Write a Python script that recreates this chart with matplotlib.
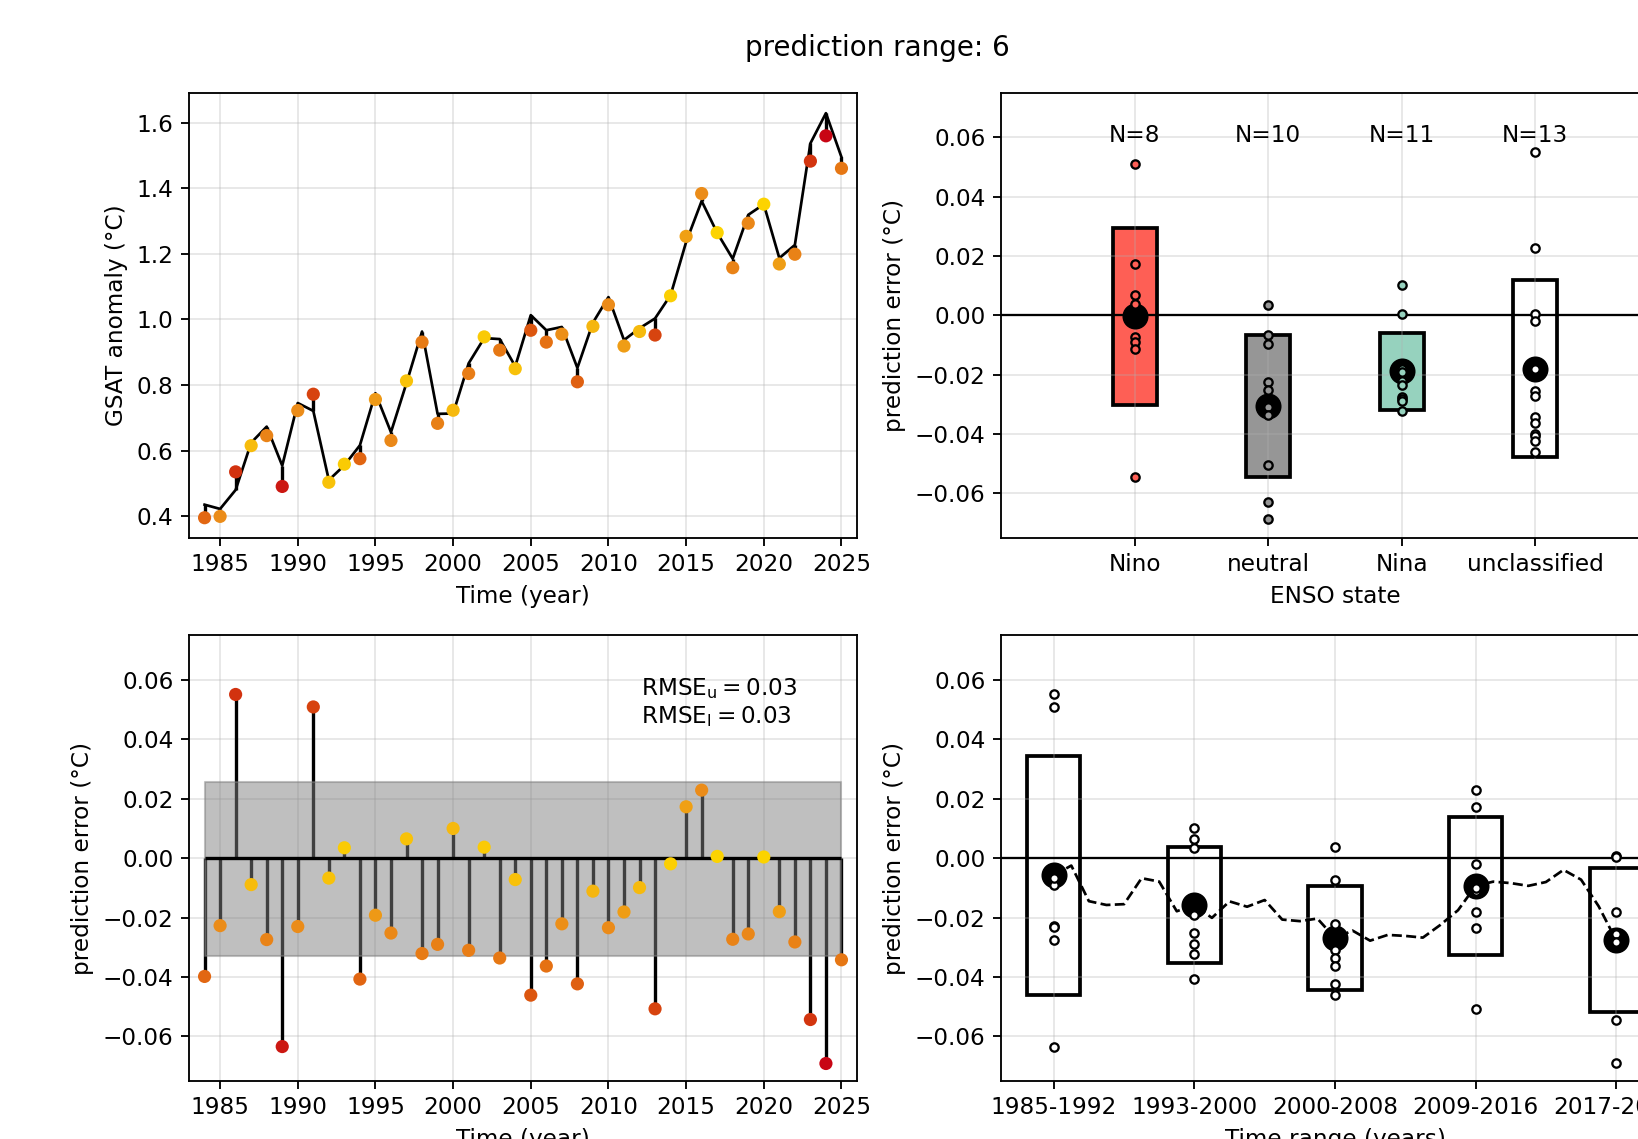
import matplotlib
matplotlib.use("Agg")
import matplotlib.pyplot as plt
import numpy as np
from matplotlib.colors import LinearSegmentedColormap, Normalize

# yearly series (1984-2025)
years = np.arange(1984, 2026)
gsat_obs = [0.435, 0.422, 0.480, 0.624, 0.673, 0.554, 0.745, 0.721, 0.510, 0.555,
            0.616, 0.775, 0.656, 0.806, 0.963, 0.712, 0.713, 0.866, 0.943, 0.940,
            0.857, 1.013, 0.967, 0.977, 0.852, 0.990, 1.068, 0.937, 0.973, 1.003,
            1.074, 1.236, 1.361, 1.264, 1.185, 1.319, 1.351, 1.187, 1.227, 1.537,
            1.629, 1.495]
pred_err = [-0.0398, -0.0227, 0.0551, -0.0089, -0.0274, -0.0634, -0.0230, 0.0509,
            -0.0067, 0.0035, -0.0407, -0.0192, -0.0252, 0.0065, -0.0321, -0.0290,
            0.0100, -0.0310, 0.0037, -0.0336, -0.0072, -0.0461, -0.0363, -0.0221,
            -0.0423, -0.0111, -0.0234, -0.0181, -0.0099, -0.0507, -0.0019, 0.0173,
            0.0229, 0.0006, -0.0273, -0.0255, 0.0004, -0.0180, -0.0282, -0.0543,
            -0.0691, -0.0342]

# ENSO groups
enso_names = ["Nino", "neutral", "Nina", "unclassified"]
enso_colors = ["#fe5f55", "#969696", "#96d2be", "white"]
nino_err = [0.0511, 0.0173, 0.0069, 0.0039, -0.0071, -0.0091, -0.0113, -0.0543]
neutral_err = [0.0036, -0.0065, -0.0096, -0.0224, -0.0250, -0.0310, -0.0335,
               -0.0503, -0.0630, -0.0686]
nina_err = [0.0101, 0.0005, -0.0180, -0.0181, -0.0192, -0.0221, -0.0234, -0.0274,
            -0.0282, -0.0290, -0.0321]
unclass_err = [0.0551, 0.0229, 0.0006, -0.0019, -0.0180, -0.0255, -0.0273, -0.0342,
               -0.0363, -0.0398, -0.0407, -0.0423, -0.0461]

# time ranges
range_labels = ["1985-1992", "1993-2000", "2000-2008", "2009-2016", "2017-2024"]
range_starts = [1985, 1993, 2001, 2009, 2017]
range_len = 8

# the reference was drawn a bit larger than 10 pt at 150 dpi
sc = 1.11
plt.rcParams.update({
    "font.size": 10 * sc,
    "axes.linewidth": 0.8 * sc,
    "xtick.major.size": 3.5 * sc,
    "ytick.major.size": 3.5 * sc,
    "xtick.major.width": 0.8 * sc,
    "ytick.major.width": 0.8 * sc,
    "grid.linewidth": 0.8 * sc,
})

years = np.asarray(years)
gsat_obs = np.asarray(gsat_obs)
pred_err = np.asarray(pred_err)
gsat_pred = gsat_obs + pred_err

cmap = LinearSegmentedColormap.from_list(
    "err", [(0.0, "#fcd400"), (0.16, "#f5b60f"), (0.33, "#eb8c19"),
            (0.5, "#e67614"), (0.67, "#dc550f"), (0.8, "#d2320f"), (1.0, "#c80514")])
norm = Normalize(0, np.abs(pred_err).max())
dot_colors = cmap(norm(np.abs(pred_err)))

fig = plt.figure(figsize=(1638 / 150, 1139 / 150), dpi=150)
ax1 = fig.add_axes([0.1154, 0.5277, 0.4078, 0.3907])
ax2 = fig.add_axes([0.6111, 0.5277, 0.4078, 0.3907])
ax3 = fig.add_axes([0.1154, 0.0509, 0.4078, 0.3913])
ax4 = fig.add_axes([0.6111, 0.0509, 0.4078, 0.3913])

fig.text(0.5354, 0.958, "prediction range: 6", ha="center", va="center", fontsize=12 * sc)

# top left: GSAT anomaly
ax1.plot(years, gsat_obs, color="black", lw=1.3, zorder=2)
ax1.vlines(years, gsat_obs, gsat_pred, color="black", lw=1.6, zorder=2)
ax1.scatter(years, gsat_pred, c=dot_colors, s=40, zorder=3, linewidths=0)
ax1.set_xlim(1983, 2026)
ax1.set_xticks(np.arange(1985, 2026, 5))
ax1.set_yticks(np.arange(0.4, 1.61, 0.2))
ax1.set_xlabel("Time (year)")
ax1.set_ylabel("GSAT anomaly (°C)")
ax1.grid(True, alpha=0.3)

# bottom left: error stems
rmse_u = np.sqrt(np.mean(pred_err[pred_err > 0] ** 2))
rmse_l = np.sqrt(np.mean(pred_err[pred_err < 0] ** 2))
ax3.vlines(years, 0, pred_err, color="black", lw=1.6, zorder=2)
ax3.fill_between([years[0], years[-1]], -rmse_l, rmse_u, facecolor="grey",
                 edgecolor="grey", alpha=0.5, lw=1, zorder=2.5)
ax3.hlines(0, years[0], years[-1], color="black", lw=1.6, zorder=3)
ax3.scatter(years, pred_err, c=dot_colors, s=40, zorder=4, linewidths=0)
ax3.text(2012.1, 0.0524,
         r"$\mathrm{RMSE_u} = %.2f$" % rmse_u + "\n" + r"$\mathrm{RMSE_l} = %.2f$" % rmse_l,
         va="center", ha="left")
ax3.set_xlim(1983, 2026)
ax3.set_ylim(-0.075, 0.075)
ax3.set_xticks(np.arange(1985, 2026, 5))
ax3.set_xlabel("Time (year)")
ax3.set_ylabel("prediction error (°C)")
ax3.grid(True, alpha=0.3)

# top right: ENSO state
groups = [nino_err, neutral_err, nina_err, unclass_err]
for i, (vals, col) in enumerate(zip(groups, enso_colors)):
    x = i + 1
    vals = np.asarray(vals)
    m, sd = vals.mean(), vals.std(ddof=1)
    ax2.bar(x, 2 * sd, bottom=m - sd, width=0.33, color=col, edgecolor="black",
            lw=1.8, zorder=1)
    ax2.plot(x, m, "o", color="black", ms=11.5, zorder=3)
    ax2.plot(np.full(len(vals), x), vals, "o", ls="none", mfc=col, mec="black",
             ms=4, mew=1.1, zorder=4)
    ax2.text(x, 0.0607, "N=%d" % len(vals), ha="center", va="center")
ax2.axhline(0, color="black", lw=1.1, zorder=2)
ax2.set_xlim(0, 5)
ax2.set_ylim(-0.075, 0.075)
ax2.set_xticks([1, 2, 3, 4])
ax2.set_xticklabels(enso_names)
ax2.set_xlabel("ENSO state")
ax2.set_ylabel("prediction error (°C)")
ax2.grid(True, alpha=0.3)

# bottom right: time ranges
for i, start in enumerate(range_starts):
    sel = (years >= start) & (years < start + range_len)
    vals = pred_err[sel]
    m, sd = vals.mean(), vals.std(ddof=1)
    ax4.bar(i, 2 * sd, bottom=m - sd, width=0.38, color="white", edgecolor="black",
            lw=1.8, zorder=1)
    ax4.plot(i, m, "o", color="black", ms=11.5, zorder=3)
    ax4.plot(np.full(len(vals), i), vals, "o", ls="none", mfc="white", mec="black",
             ms=4, mew=1.1, zorder=4)

# 8-year running mean
roll_years = years[(years >= 1985) & (years <= 2024 - range_len + 1)]
roll_mean = [pred_err[(years >= y) & (years < y + range_len)].mean() for y in roll_years]
ax4.plot((roll_years - 1985) / range_len, roll_mean, "--", color="black", lw=1.3, zorder=2.5)
ax4.axhline(0, color="black", lw=1.1, zorder=2)
ax4.set_xlim(-0.375, 4.375)
ax4.set_ylim(-0.075, 0.075)
ax4.set_xticks(range(len(range_labels)))
ax4.set_xticklabels(range_labels)
ax4.set_xlabel("Time range (years)")
ax4.set_ylabel("prediction error (°C)")
ax4.grid(True, alpha=0.3)

fig.savefig("out.png", dpi=150)
